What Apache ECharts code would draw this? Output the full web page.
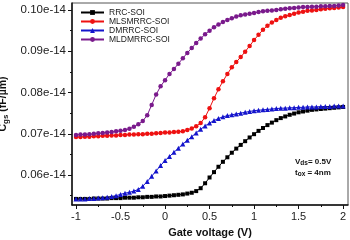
<!DOCTYPE html>
<html><head><meta charset="utf-8">
<script src="https://cdn.jsdelivr.net/npm/echarts@6/dist/echarts.min.js"></script>
<style>html,body{margin:0;padding:0;background:#fff}#c{width:350px;height:240px}</style>
</head><body><div id="c"></div>
<script>
// Gate voltage (V), -1 to 2 in 0.05 V steps
const gateVoltage = [-1,-0.95,-0.9,-0.85,-0.8,-0.75,-0.7,-0.65,-0.6,-0.55,-0.5,-0.45,-0.4,-0.35,-0.3,-0.25,-0.2,-0.15,-0.1,-0.05,0,0.05,0.1,0.15,0.2,0.25,0.3,0.35,0.4,0.45,0.5,0.55,0.6,0.65,0.7,0.75,0.8,0.85,0.9,0.95,1,1.05,1.1,1.15,1.2,1.25,1.3,1.35,1.4,1.45,1.5,1.55,1.6,1.65,1.7,1.75,1.8,1.85,1.9,1.95,2];
// Cgs in units of e-14 F/um
const rrcSOI = [0.0542,0.0542,0.0542,0.0542,0.0543,0.0543,0.0543,0.0543,0.0544,0.0544,0.0544,0.0545,0.0545,0.0545,0.0546,0.0546,0.0547,0.0547,0.0548,0.0548,0.0549,0.0550,0.0551,0.0552,0.0553,0.0555,0.0557,0.0561,0.0568,0.0580,0.0594,0.0607,0.0620,0.0632,0.0643,0.0654,0.0664,0.0673,0.0682,0.0691,0.0699,0.0707,0.0714,0.0721,0.0727,0.0733,0.0738,0.0742,0.0746,0.0749,0.0752,0.0754,0.0756,0.0758,0.0759,0.0760,0.0761,0.0762,0.0763,0.0764,0.0765];
const mlsmrrcSOI = [0.0692,0.0692,0.0693,0.0693,0.0694,0.0694,0.0695,0.0695,0.0696,0.0696,0.0697,0.0697,0.0698,0.0698,0.0699,0.0699,0.0700,0.0700,0.0701,0.0702,0.0703,0.0703,0.0704,0.0705,0.0706,0.0709,0.0713,0.0718,0.0726,0.0740,0.0762,0.0786,0.0808,0.0827,0.0845,0.0861,0.0874,0.0886,0.0899,0.0913,0.0927,0.0940,0.0952,0.0962,0.0970,0.0976,0.0981,0.0985,0.0988,0.0991,0.0994,0.0996,0.0998,0.0999,0.1000,0.1002,0.1003,0.1004,0.1005,0.1006,0.1007];
const dmrrcSOI = [0.0542,0.0542,0.0542,0.0543,0.0543,0.0544,0.0545,0.0546,0.0548,0.0550,0.0553,0.0556,0.0558,0.0561,0.0565,0.0573,0.0584,0.0597,0.0610,0.0623,0.0635,0.0645,0.0655,0.0665,0.0675,0.0684,0.0693,0.0702,0.0711,0.0719,0.0726,0.0732,0.0737,0.0741,0.0744,0.0746,0.0748,0.0750,0.0752,0.0754,0.0756,0.0757,0.0758,0.0759,0.0760,0.0761,0.0762,0.0762,0.0763,0.0763,0.0764,0.0764,0.0765,0.0765,0.0765,0.0766,0.0766,0.0766,0.0767,0.0767,0.0767];
const mldmrrcSOI = [0.0697,0.0698,0.0698,0.0699,0.0700,0.0701,0.0702,0.0703,0.0704,0.0706,0.0707,0.0709,0.0712,0.0717,0.0723,0.0731,0.0745,0.0770,0.0795,0.0815,0.0830,0.0845,0.0857,0.0870,0.0883,0.0896,0.0908,0.0920,0.0931,0.0941,0.0950,0.0958,0.0965,0.0971,0.0976,0.0980,0.0984,0.0987,0.0989,0.0991,0.0993,0.0995,0.0997,0.0998,0.0999,0.1000,0.1002,0.1003,0.1004,0.1005,0.1006,0.1007,0.1007,0.1008,0.1008,0.1009,0.1009,0.1010,0.1010,0.1011,0.1012];
const seriesNames = ['RRC-SOI','MLSMRRC-SOI','DMRRC-SOI','MLDMRRC-SOI'];
const xTicks = [-1,-0.5,0,0.5,1,1.5,2];
const xMinorTicks = [-0.75,-0.25,0.25,0.75,1.25,1.75];
const yTicks = [0.06,0.07,0.08,0.09,0.10];
const yMinorTicks = [0.055,0.065,0.075,0.085,0.095];

const pair = arr => gateVoltage.map((v,i)=>[v,arr[i]]);
const FONT = 'Liberation Sans, Arial, sans-serif';
const chart = echarts.init(document.getElementById('c'), null, {renderer:'canvas'});
const xMin=-1.045, xMax=2.055, yMin=0.05273, yMax=0.1017;
const mkSeries = (name, data, color, symbol, size) => ({
  name, type:'line', data:pair(data), symbol, symbolSize:size,
  lineStyle:{color, width:1}, itemStyle:{color}, animation:false, z:3
});
chart.setOption({
  backgroundColor:'#fff',
  animation:false,
  grid:{left:72,right:2,top:3,bottom:35,show:true,borderColor:'#555',borderWidth:1,outerBoundsMode:'none',containLabel:false},
  legend:{
    orient:'vertical', left:80, top:8, padding:0, itemWidth:23, itemHeight:6, itemGap:0,
    textStyle:{fontFamily:FONT,fontSize:8.5,color:'#222',lineHeight:8.7},
    data:seriesNames
  },
  xAxis:[{
    type:'value', min:xMin, max:xMax, position:'bottom',
    name:'Gate voltage (V)', nameLocation:'middle', nameGap:22,
    nameTextStyle:{fontFamily:FONT,fontSize:11,fontWeight:'bold',color:'#111'},
    axisLine:{show:true,onZero:false,lineStyle:{color:'#111',width:1.5}},
    axisTick:{show:true,length:4,inside:false,customValues:xTicks,lineStyle:{color:'#111'}},
    axisLabel:{customValues:xTicks,fontFamily:FONT,fontSize:11,color:'#222',margin:6,
      formatter:v=>String(+v.toFixed(2))},
    splitLine:{show:false}
  },{
    type:'value', min:xMin, max:xMax, position:'bottom',
    axisLine:{show:false,onZero:false}, axisLabel:{show:false}, splitLine:{show:false},
    axisTick:{show:true,length:2,customValues:xMinorTicks,lineStyle:{color:'#111'}}
  }],
  yAxis:[{
    type:'value', min:yMin, max:yMax, position:'left',
    name:'{b|C}{s|gs}{b| (fF/\u00b5m)}', nameLocation:'middle', nameGap:56, nameRotate:90,
    nameTextStyle:{rich:{
      b:{fontFamily:FONT,fontSize:10.5,fontWeight:'bold',color:'#111'},
      s:{fontFamily:FONT,fontSize:8,fontWeight:'bold',color:'#111',verticalAlign:'bottom',padding:[5,0,0,0]}
    }},
    axisLine:{show:true,onZero:false,lineStyle:{color:'#111',width:1.5}},
    axisTick:{show:true,length:4,customValues:yTicks,lineStyle:{color:'#111'}},
    axisLabel:{customValues:yTicks,fontFamily:FONT,fontSize:11.5,color:'#222',margin:6,
      formatter:v=>v.toFixed(2)+'e-14'},
    splitLine:{show:false}
  },{
    type:'value', min:yMin, max:yMax, position:'left',
    axisLine:{show:false,onZero:false}, axisLabel:{show:false}, splitLine:{show:false},
    axisTick:{show:true,length:2,customValues:yMinorTicks,lineStyle:{color:'#111'}}
  }],
  series:[
    mkSeries(seriesNames[0], rrcSOI, '#000000', 'rect', 4),
    mkSeries(seriesNames[1], mlsmrrcSOI, '#ee1111', 'circle', 4.5),
    mkSeries(seriesNames[2], dmrrcSOI, '#1414cc', 'triangle', 5),
    mkSeries(seriesNames[3], mldmrrcSOI, '#7a1a8c', 'circle', 4.5)
  ],
  graphic:[{
    type:'text', left:295, top:156, z:10,
    style:{rich:{
      b:{fontFamily:FONT,fontSize:8,fontWeight:'bold',fill:'#111'},
      s:{fontFamily:FONT,fontSize:6.5,fontWeight:'bold',fill:'#111',verticalAlign:'bottom',padding:[3,0,0,0]}
    }, text:'{b|V}{s|ds}{b|= 0.5V}\n{b|t}{s|ox}{b| = 4nm}', lineHeight:11}
  }]
});
</script></body></html>
